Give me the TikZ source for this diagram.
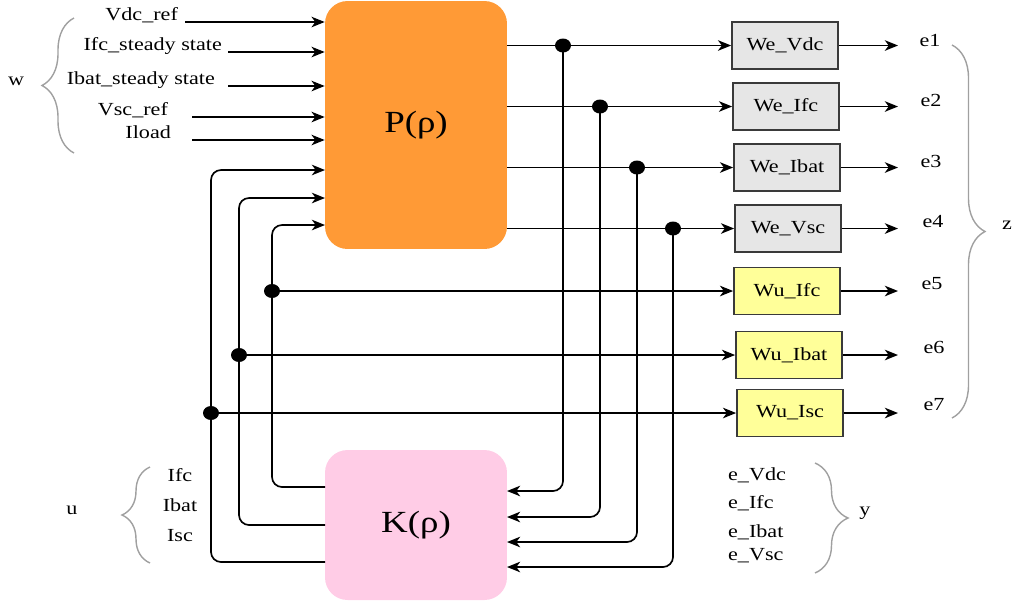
\documentclass[tikz,border=0pt]{standalone}
\usepackage{fontspec}
\setmainfont{Liberation Serif}[FakeStretch=1.2]
\usetikzlibrary{arrows.meta,positioning,shapes.geometric,decorations.pathreplacing}
\definecolor{plantC}{HTML}{FF9A36}
\definecolor{ctrlC}{HTML}{FFCCE6}
\definecolor{weC}{HTML}{E6E6E6}
\definecolor{wuC}{HTML}{FFFF99}
\definecolor{braceC}{HTML}{A0A0A0}
\definecolor{edgeC}{HTML}{3A3A3A}
\begin{document}
\begin{tikzpicture}[x=0.02cm,y=-0.02cm,>={Stealth[length=7.5pt,width=6pt,inset=2.2pt]},font=\fontsize{10.5}{12}\selectfont,
 sig/.style={->,line width=0.95pt},
 blk/.style={rounded corners=0.45cm,minimum width=3.64cm,font=\fontsize{17.5}{20}\selectfont},
 wbox/.style={draw=edgeC,line width=1pt,minimum width=2.12cm,minimum height=0.94cm,inner sep=1pt},
 jdot/.style={ellipse,fill=black,inner sep=0pt,minimum width=0.32cm,minimum height=0.28cm},
 lbl/.style={inner sep=1pt},
 curly/.style={draw=braceC,line width=0.8pt,decorate,decoration={brace,amplitude=#1}}]
\useasboundingbox (0,0) rectangle (1017,603);
% plant and controller
\node[blk,fill=plantC,minimum height=4.96cm] (P) at (416,125) {P(ρ)};
\node[blk,fill=ctrlC,minimum height=3cm] (K) at (416,525) {K(ρ)};
% exogenous inputs w
\foreach \n/\t/\x/\y/\s in {wVdc/Vdc\_ref/180/20/185,wIfc/Ifc\_steady state/224/50/228,wIbat/Ibat\_steady state/217/84/228,wVsc/Vsc\_ref/170/115/192,wIload/Iload/173/138/192}{
 \node[lbl,anchor=base east] (\n) at (\x,\y) {\t};
 \coordinate (\n-s) at (\s,\y+2);
 \draw[sig] (\n-s) -- (\n-s -| P.west);
}
% weighting blocks
\foreach \n/\x/\y/\t/\c in {weVdc/785/45.5/We\_Vdc/weC,weIfc/786/106.5/We\_Ifc/weC,weIbat/787/167.5/We\_Ibat/weC,weVsc/788/228.5/We\_Vsc/weC,wuIfc/787/291/Wu\_Ifc/wuC,wuIbat/789/355/Wu\_Ibat/wuC,wuIsc/790/413/Wu\_Isc/wuC}
 \node[wbox,fill=\c] (\n) at (\x,\y) {\t};
% measured outputs y -> K
\coordinate (kin1) at (507,491);
\coordinate (kin2) at (507,517);
\coordinate (kin3) at (507,542);
\coordinate (kin4) at (507,567);
\foreach \n/\x/\k in {weVdc/563/kin1,weIfc/600/kin2,weIbat/637/kin3,weVsc/673/kin4}{
 \draw[sig] (P.east |- \n) -- (\n.west);
 \draw[sig,rounded corners=0.2cm] (\x,0 |- \n) |- (\k);
 \node[jdot] (j\n) at (\x,0 |- \n) {};
}
% control inputs u -> P
\coordinate (kout1) at (325,487);
\coordinate (kout2) at (325,525);
\coordinate (kout3) at (325,562);
\coordinate (pin1) at (325,225);
\coordinate (pin2) at (325,198);
\coordinate (pin3) at (325,170);
\node[jdot] (jwuIfc) at (272,291) {};
\node[jdot] (jwuIbat) at (239,355) {};
\node[jdot] (jwuIsc) at (211,413) {};
\foreach \n/\i in {wuIfc/1,wuIbat/2,wuIsc/3}{
 \draw[sig,rounded corners=0.2cm] (kout\i) -| (pin\i -| j\n) -- (pin\i);
 \draw[sig] (j\n) -- (\n.west);
}
% performance outputs z
\coordinate (tip) at (898,0);
\foreach \n/\e/\x/\y in {weVdc/e1/930/40,weIfc/e2/931/100,weIbat/e3/931/161,weVsc/e4/933/222,wuIfc/e5/932/284,wuIbat/e6/934/347,wuIsc/e7/934/405}{
 \draw[sig] (\n.east) -- (\n.east -| tip);
 \node[lbl] (\e) at (\x,\y) {\e};
}
% signal groups
\draw[curly=0.64cm] (74,153) -- (74,18);
\node[lbl] (w) at (16,81) {w};
\draw[curly=0.66cm] (952,45) -- (952,418);
\node[lbl] (z) at (1007,225) {z};
\draw[curly=0.56cm] (150,563) -- (150,467);
\node[lbl] (u) at (72,510) {u};
\foreach \n/\t/\y in {uIfc/Ifc/475,uIbat/Ibat/505,uIsc/Isc/536} \node[lbl] (\n) at (180,\y) {\t};
\draw[curly=0.66cm] (815,463) -- (815,573);
\node[lbl] (y) at (865,513) {y};
\foreach \n/\t/\y in {yVdc/e\_Vdc/475,yIfc/e\_Ifc/503,yIbat/e\_Ibat/532,yVsc/e\_Vsc/556} \node[lbl,anchor=west] (\n) at (726,\y) {\t};
\end{tikzpicture}
\end{document}
